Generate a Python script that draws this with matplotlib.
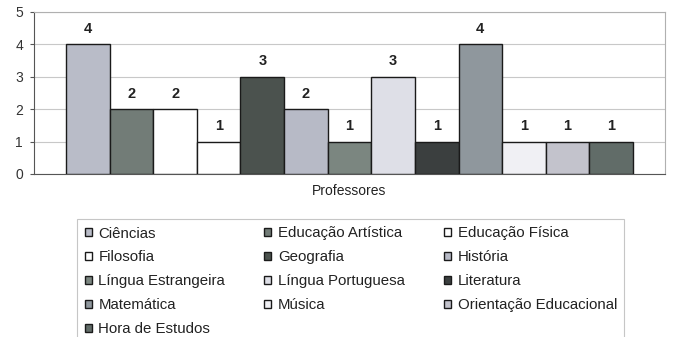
import numpy as np
import matplotlib.pyplot as plt

plt.rcParams['font.family'] = ['Liberation Sans', 'DejaVu Sans']

disciplinas = ["Ciências", "Educação Artística", "Educação Física", "Filosofia",
               "Geografia", "História", "Língua Estrangeira", "Língua Portuguesa",
               "Literatura", "Matemática", "Música", "Orientação Educacional",
               "Hora de Estudos"]
professores = [4, 2, 2, 1, 3, 2, 1, 3, 1, 4, 1, 1, 1]
cores = ["#b9bcc8", "#727c77", "#ffffff", "#ffffff", "#4b524e", "#b7bac6",
         "#7b8680", "#dedfe7", "#3b3f3f", "#8f979d", "#f0f0f4", "#c3c3cc",
         "#616c68"]

fig = plt.figure(figsize=(6.74, 3.37), dpi=100)
ax = fig.add_axes([34 / 674, 1 - 174 / 337, 631 / 674, 162 / 337])

x = np.arange(len(professores))
bars = ax.bar(x, professores, width=1.0, color=cores, edgecolor="#1a1a1a",
              linewidth=1.0, zorder=3)
for b, v in zip(bars, professores):
    ax.annotate(str(v), (b.get_x() + b.get_width() / 2, v), xytext=(0, 6),
                textcoords="offset points", ha="center", va="bottom",
                fontsize=10.5, fontweight="bold", color="#222222")

ax.set_xlim(-1.236, len(professores) - 1 + 1.236)
ax.set_ylim(0, 5)
ax.set_yticks(range(6))
ax.set_xticks([])
ax.grid(axis="y", color="#c8c8c8", linewidth=0.8, zorder=0)
ax.tick_params(axis="y", labelsize=10, length=3, pad=5, color="#555555",
               labelcolor="#333333")
ax.set_xlabel("Professores", fontsize=10, color="#222222", labelpad=7)
for s in ["left", "bottom"]:
    ax.spines[s].set_color("#555555")
for s in ["top", "right"]:
    ax.spines[s].set_color("#b0b0b0")

# legend filled row by row, like the original
ordem = [0, 3, 6, 9, 12, 1, 4, 7, 10, 2, 5, 8, 11]
handles = [bars[i] for i in ordem]
labels = [disciplinas[i] for i in ordem]
leg = fig.legend(handles, labels, ncol=3, loc="upper left",
                 bbox_to_anchor=(77 / 674, 1 - 219 / 337), fontsize=10.8,
                 frameon=True, fancybox=False, edgecolor="#b8b8b8",
                 handlelength=0.47, handleheight=0.47, handletextpad=0.45,
                 columnspacing=2.6, labelspacing=0.66, borderpad=0.5,
                 borderaxespad=0)
leg.get_frame().set_linewidth(0.8)
for t in leg.get_texts():
    t.set_color("#222222")

fig.savefig("out.png", dpi=100)
